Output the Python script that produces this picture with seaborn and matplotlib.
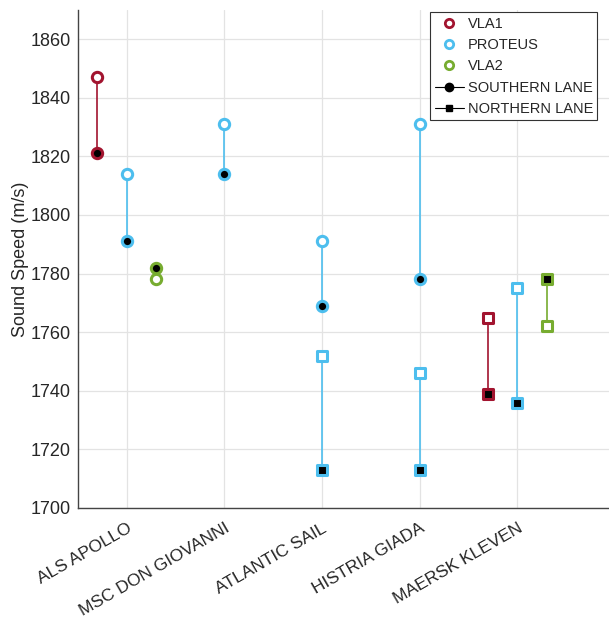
import matplotlib
matplotlib.use("Agg")
import matplotlib.pyplot as plt
from matplotlib.lines import Line2D
import seaborn as sns
import pandas as pd

# ---------------- data ----------------
ships = ["ALS APOLLO", "MSC DON GIOVANNI", "ATLANTIC SAIL", "HISTRIA GIADA", "MAERSK KLEVEN"]
receivers = ["VLA1", "PROTEUS", "VLA2"]
lanes = ["SOUTHERN LANE", "NORTHERN LANE"]

rec_ship = ["ALS APOLLO", "ALS APOLLO", "ALS APOLLO", "MSC DON GIOVANNI",
            "ATLANTIC SAIL", "ATLANTIC SAIL", "HISTRIA GIADA", "HISTRIA GIADA",
            "MAERSK KLEVEN", "MAERSK KLEVEN", "MAERSK KLEVEN"]
rec_receiver = ["VLA1", "PROTEUS", "VLA2", "PROTEUS",
                "PROTEUS", "PROTEUS", "PROTEUS", "PROTEUS",
                "VLA1", "PROTEUS", "VLA2"]
rec_lane = ["SOUTHERN LANE", "SOUTHERN LANE", "SOUTHERN LANE", "SOUTHERN LANE",
            "SOUTHERN LANE", "NORTHERN LANE", "SOUTHERN LANE", "NORTHERN LANE",
            "NORTHERN LANE", "NORTHERN LANE", "NORTHERN LANE"]
open_speed = [1847, 1814, 1778, 1831, 1791, 1752, 1831, 1746, 1765, 1775, 1762]
filled_speed = [1821, 1791, 1782, 1814, 1769, 1713, 1778, 1713, 1739, 1736, 1778]

# ---------------- style ----------------
colors = {"VLA1": "#A2142F", "PROTEUS": "#4DBEEE", "VLA2": "#77AC30"}
offsets = {"VLA1": -0.3, "PROTEUS": 0.0, "VLA2": 0.3}
lane_marker = {"SOUTHERN LANE": "o", "NORTHERN LANE": "s"}

sns.set_style("white")
plt.rcParams["font.family"] = ["Liberation Sans", "DejaVu Sans"]

rows = []
for i in range(len(rec_ship)):
    x = ships.index(rec_ship[i]) + 1 + offsets[rec_receiver[i]]
    for state, v in (("open", open_speed[i]), ("filled", filled_speed[i])):
        rows.append(dict(rec=i, x=x, speed=v, receiver=rec_receiver[i],
                         lane=rec_lane[i], state=state))
df = pd.DataFrame(rows)

fig = plt.figure(figsize=(6.09, 6.18), dpi=100)
ax = fig.add_axes([0.128, 0.178, 0.872, 0.806])

ax.set_axisbelow(True)
ax.grid(True, color="#e3e3e3", linewidth=0.9)

sns.lineplot(data=df, x="x", y="speed", hue="receiver", palette=colors,
             units="rec", estimator=None, sort=False, legend=False,
             linewidth=1.2, ax=ax, zorder=2)

for rcv in receivers:
    for lane in lanes:
        for state in ("open", "filled"):
            sub = df[(df.receiver == rcv) & (df.lane == lane) & (df.state == state)]
            if sub.empty:
                continue
            face = "white" if state == "open" else "black"
            sns.scatterplot(data=sub, x="x", y="speed", marker=lane_marker[lane],
                            color=face, edgecolor=colors[rcv], linewidth=2.2,
                            s=55 if lane == "SOUTHERN LANE" else 48,
                            legend=False, ax=ax, zorder=3)

ax.set_xlim(0.5, 5.94)
ax.set_ylim(1700, 1870)
ax.set_xticks(range(1, len(ships) + 1))
ax.set_xticklabels(ships, rotation=30, ha="right", rotation_mode="anchor", fontsize=12.5)
ax.set_yticks(range(1700, 1861, 20))
ax.tick_params(axis="y", labelsize=13, direction="in", length=4, color="#444444", pad=5)
ax.tick_params(axis="x", direction="in", length=4, color="#444444", pad=9)
ax.set_xlabel("")
ax.set_ylabel("Sound Speed (m/s)", fontsize=13, labelpad=1.5)

for s in ("top", "right"):
    ax.spines[s].set_visible(False)
for s in ("left", "bottom"):
    ax.spines[s].set_color("#444444")
    ax.spines[s].set_linewidth(1.0)

handles = [
    Line2D([], [], linestyle="none", marker="o", markerfacecolor="white",
           markeredgecolor=colors["VLA1"], markeredgewidth=2, markersize=6),
    Line2D([], [], linestyle="none", marker="o", markerfacecolor="white",
           markeredgecolor=colors["PROTEUS"], markeredgewidth=2, markersize=6),
    Line2D([], [], linestyle="none", marker="o", markerfacecolor="white",
           markeredgecolor=colors["VLA2"], markeredgewidth=2, markersize=6),
    Line2D([], [], color="black", linewidth=0.8, marker="o", markersize=6),
    Line2D([], [], color="black", linewidth=0.8, marker="s", markersize=4.5),
]
leg = fig.legend(handles, receivers + lanes, loc="upper right",
                 bbox_to_anchor=(0.981, 0.980), fontsize=10.5, frameon=True,
                 fancybox=False, edgecolor="#333333", framealpha=1,
                 handlelength=2.0, handletextpad=0.25, labelspacing=0.5,
                 borderpad=0.3, borderaxespad=0)
leg.get_frame().set_linewidth(0.8)

fig.savefig("out.png", dpi=100)
